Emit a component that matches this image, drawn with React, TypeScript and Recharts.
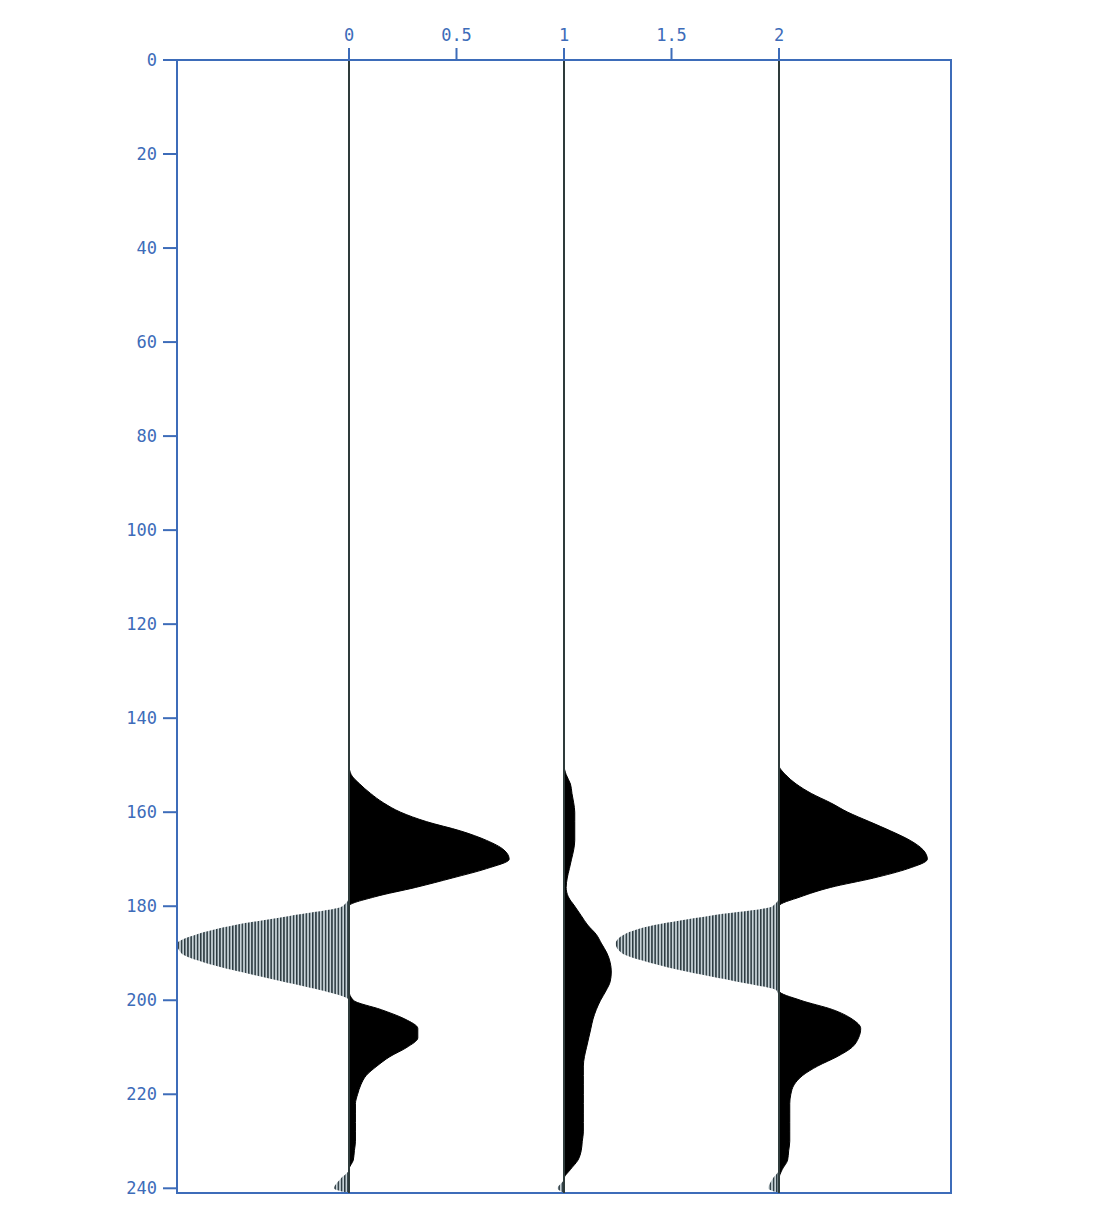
import React from "react";
import {
  ComposedChart,
  Area,
  XAxis,
  YAxis,
  ReferenceLine,
  ReferenceArea,
} from "recharts";

// sample times (ms) and trace amplitudes
const times = [
  0, 150, 152, 154, 156, 158, 160, 162, 164, 166, 168, 170, 172, 174, 176, 178,
  180, 182, 184, 186, 188, 190, 192, 194, 196, 198, 200, 202, 204, 206, 208,
  210, 212, 214, 216, 218, 220, 222, 224, 226, 228, 230, 232, 234, 236, 238,
  240, 241,
];
const trace0 = [
  0, 0, 0.01, 0.05, 0.1, 0.16, 0.24, 0.36, 0.52, 0.64, 0.72, 0.745, 0.64, 0.48,
  0.31, 0.12, -0.03, -0.27, -0.53, -0.71, -0.8, -0.78, -0.67, -0.5, -0.31,
  -0.12, 0.02, 0.15, 0.26, 0.32, 0.32, 0.27, 0.19, 0.13, 0.08, 0.055, 0.04,
  0.03, 0.03, 0.03, 0.03, 0.03, 0.025, 0.02, 0, -0.04, -0.07, 0,
];
const trace1 = [
  0, 0, 0.01, 0.03, 0.037, 0.045, 0.05, 0.05, 0.05, 0.05, 0.045, 0.035, 0.025,
  0.015, 0.01, 0.02, 0.05, 0.08, 0.11, 0.15, 0.175, 0.2, 0.215, 0.22, 0.215,
  0.195, 0.17, 0.15, 0.135, 0.125, 0.115, 0.105, 0.095, 0.09, 0.09, 0.09, 0.09,
  0.09, 0.09, 0.09, 0.09, 0.085, 0.08, 0.065, 0.03, 0, -0.03, 0,
];
const trace2 = [
  0, 0, 0.03, 0.08, 0.15, 0.24, 0.32, 0.42, 0.52, 0.61, 0.67, 0.69, 0.6, 0.44,
  0.24, 0.1, -0.03, -0.32, -0.58, -0.72, -0.76, -0.73, -0.6, -0.42, -0.2, -0.01,
  0.1, 0.25, 0.34, 0.38, 0.37, 0.34, 0.27, 0.18, 0.11, 0.07, 0.055, 0.05, 0.05,
  0.05, 0.05, 0.05, 0.045, 0.04, 0.015, -0.03, -0.05, 0,
];
const offsets = [0, 1, 2];
const xTicks = [0, 0.5, 1, 1.5, 2];
const yTicks = [0, 20, 40, 60, 80, 100, 120, 140, 160, 180, 200, 220, 240];

const traces = [trace0, trace1, trace2];

const data = times.map((t, i) => {
  const row: Record<string, any> = { t };
  traces.forEach((tr, k) => {
    const o = offsets[k];
    const a = tr[i];
    row[`p${k}`] = [o, o + Math.max(a, 0)];
    row[`n${k}`] = [o + Math.min(a, 0), o];
  });
  return row;
});

const BLUE = "#3d6cb9";
const tickStyle = {
  fill: BLUE,
  fontSize: 17,
  fontFamily: "DejaVu Sans Mono",
};

export default function App() {
  return (
    <ComposedChart
      width={1000}
      height={1200}
      data={data}
      layout="vertical"
      margin={{ top: 22, right: 57, bottom: 15, left: 0 }}
    >
      <defs>
        <pattern
          id="stripes"
          width="3.2"
          height="4"
          patternUnits="userSpaceOnUse"
        >
          <rect width="3.2" height="4" fill="#c8d3d8" />
          <rect width="1.5" height="4" fill="#2a383e" />
        </pattern>
      </defs>
      <XAxis
        type="number"
        orientation="top"
        domain={[-0.8, 2.8]}
        ticks={xTicks}
        allowDataOverflow
        height={30}
        tickSize={12}
        tickMargin={7}
        stroke={BLUE}
        strokeWidth={2}
        tick={tickStyle}
      />
      <YAxis
        type="number"
        dataKey="t"
        domain={[0, 241]}
        ticks={yTicks}
        allowDataOverflow
        width={169}
        tickSize={14}
        tickMargin={6}
        stroke={BLUE}
        strokeWidth={2}
        tick={tickStyle}
      />
      {offsets.map((o, k) => (
        <Area
          key={`n${k}`}
          dataKey={`n${k}`}
          type="monotone"
          fill="url(#stripes)"
          fillOpacity={1}
          stroke="none"
          isAnimationActive={false}
        />
      ))}
      {offsets.map((o, k) => (
        <Area
          key={`p${k}`}
          dataKey={`p${k}`}
          type="monotone"
          fill="#000"
          fillOpacity={1}
          stroke="#000"
          strokeWidth={1}
          isAnimationActive={false}
        />
      ))}
      {offsets.map((o) => (
        <ReferenceLine key={`z${o}`} x={o} stroke="#2e3b3b" strokeWidth={2} />
      ))}
      <ReferenceArea
        x1={-0.8}
        x2={2.8}
        y1={0}
        y2={241}
        fill="none"
        stroke={BLUE}
        strokeWidth={2}
        fillOpacity={0}
      />
    </ComposedChart>
  );
}
